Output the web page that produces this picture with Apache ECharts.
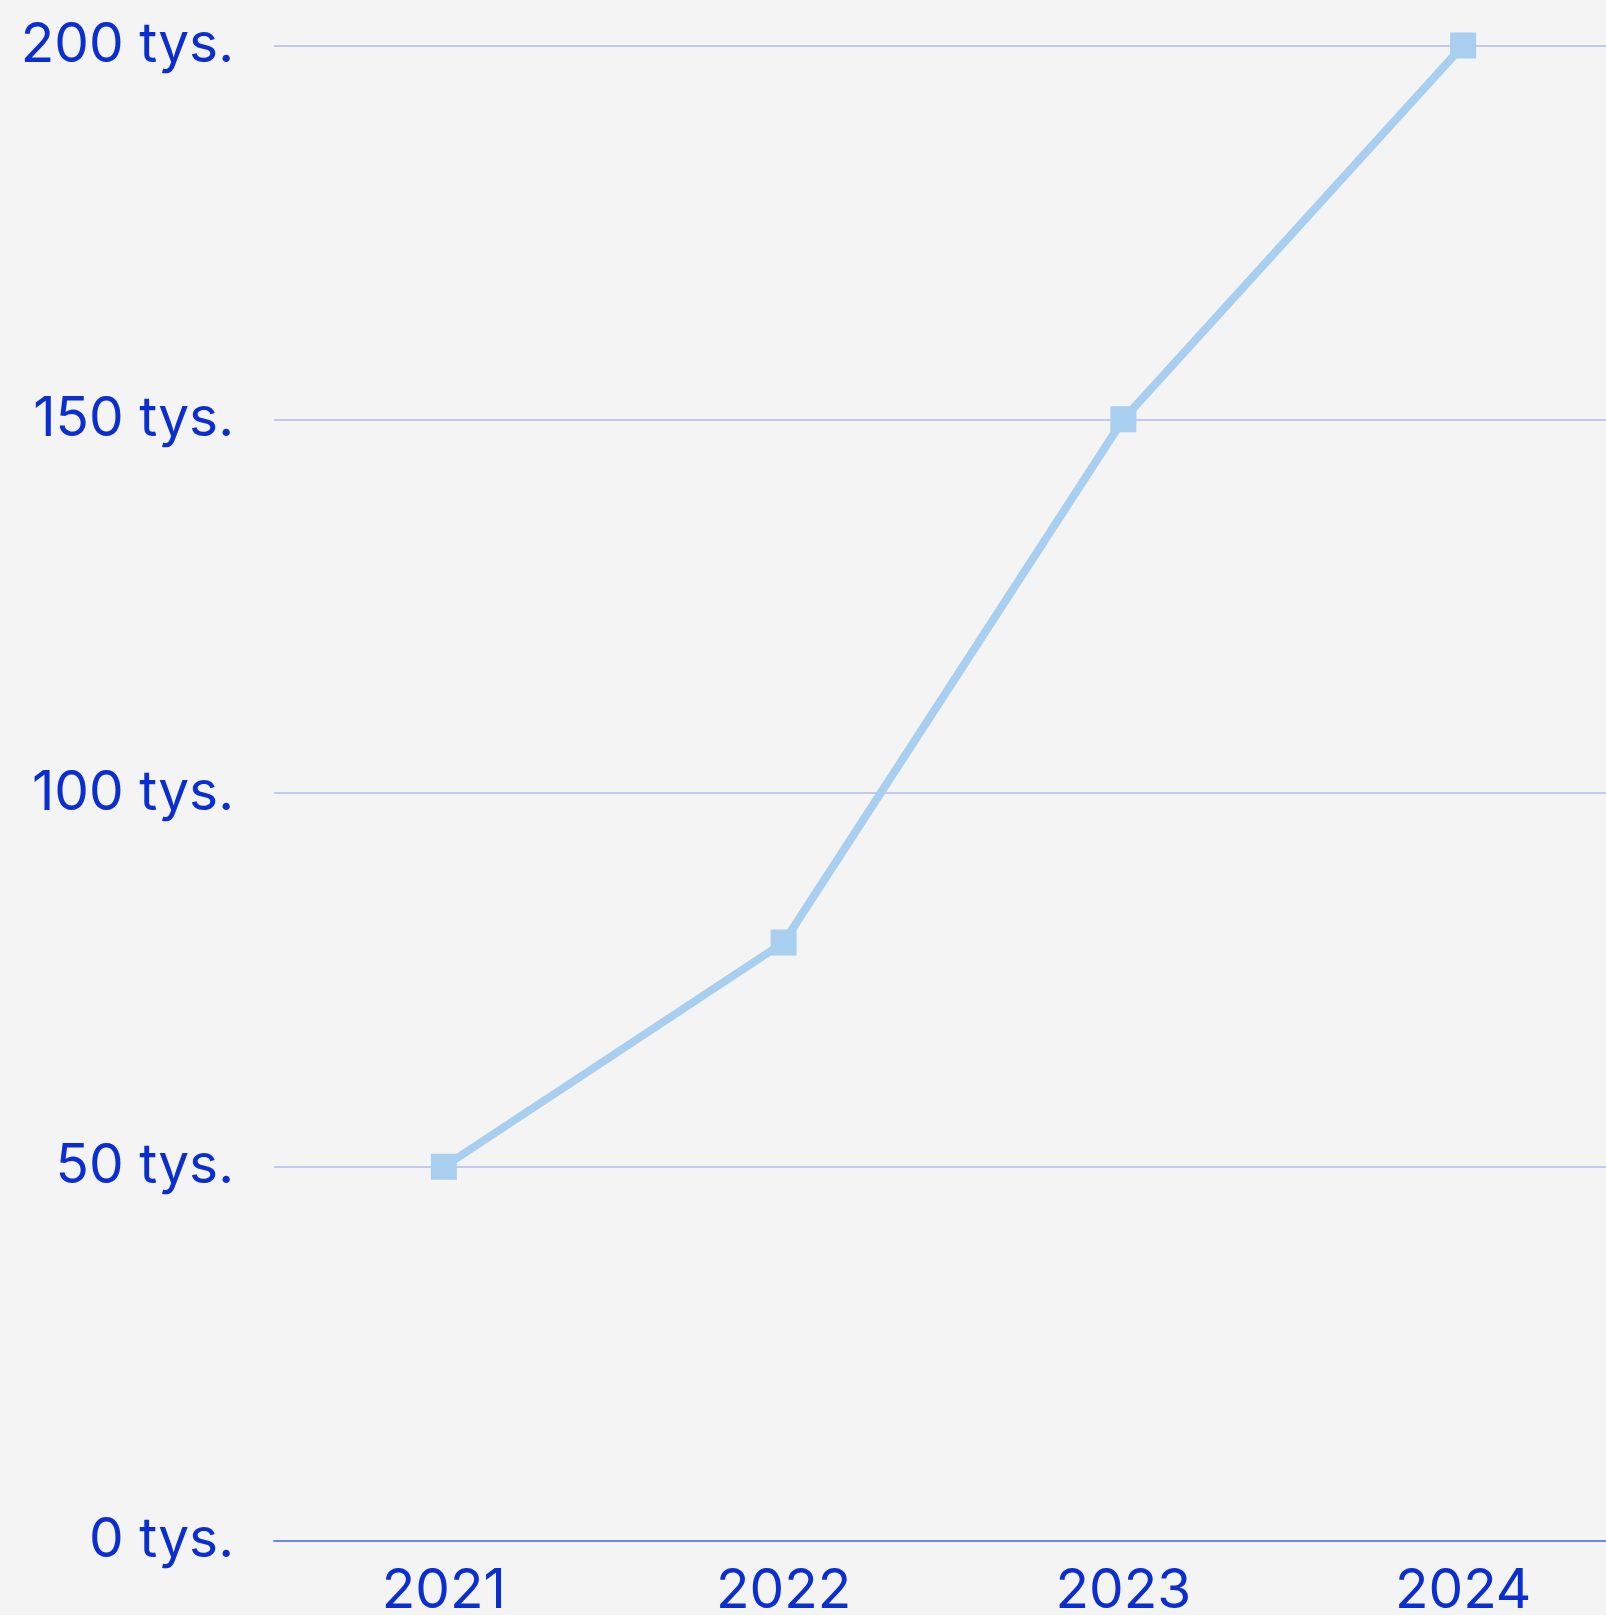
<!DOCTYPE html>
<html>
<head>
<meta charset="utf-8">
<script src="https://cdn.jsdelivr.net/npm/echarts@6/dist/echarts.min.js"></script>
<style>
html,body{margin:0;padding:0;background:#f4f4f4;overflow:hidden;}
#chart{width:1606px;height:1615px;}
</style>
</head>
<body>
<div id="chart"></div>
<script>
const categories = ['2021', '2022', '2023', '2024'];
const values = [50, 80, 150, 200];
const yTicks = [0, 50, 100, 150, 200];
const ySuffix = ' tys.';

const chart = echarts.init(document.getElementById('chart'));
chart.setOption({
  backgroundColor: '#f4f4f4',
  animation: false,
  grid: { left: 274, top: 45.5, right: -27, bottom: 74.5, containLabel: false, outerBoundsMode: 'none' },
  xAxis: {
    type: 'category',
    data: categories,
    boundaryGap: true,
    axisLine: { show: true, lineStyle: { color: '#6e87ee', width: 2 } },
    axisTick: { show: false },
    axisLabel: { color: '#0b2ed1', fontSize: 55, fontFamily: 'Inter', margin: 23 },
    splitLine: { show: false }
  },
  yAxis: {
    type: 'value',
    min: yTicks[0],
    max: yTicks[yTicks.length - 1],
    interval: 50,
    axisLine: { show: false },
    axisTick: { show: false },
    axisLabel: {
      color: '#0b2ed1', fontSize: 55, fontFamily: 'Inter', margin: 40,
      padding: [0, 0, 10, 0],
      formatter: v => v + ySuffix
    },
    splitLine: { show: true, lineStyle: { color: '#c5c8ee', width: 2 } }
  },
  series: [{
    type: 'line',
    data: values,
    symbol: 'rect',
    symbolSize: 26,
    lineStyle: { color: '#a8cef0', width: 8 },
    itemStyle: { color: '#a8cef0' }
  }]
});
</script>
</body>
</html>
